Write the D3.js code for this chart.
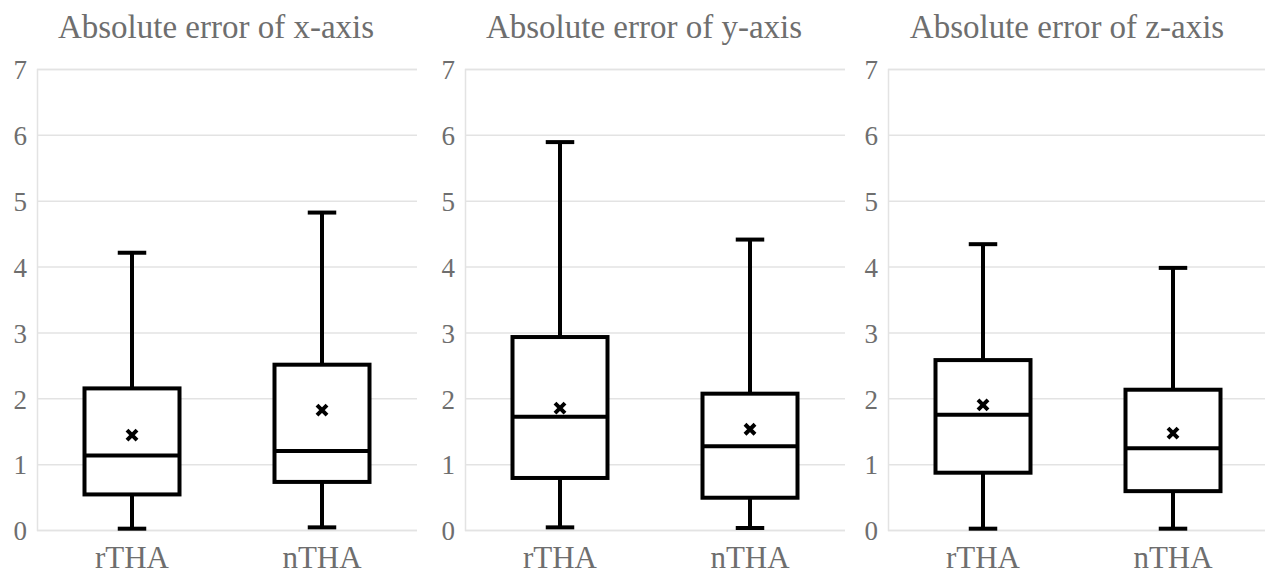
<!DOCTYPE html>
<html>
<head>
<meta charset="utf-8">
<script src="https://cdn.jsdelivr.net/npm/d3@7/dist/d3.min.js"></script>
<style>
  html, body { margin: 0; padding: 0; background: #fff; }
  svg { display: block; }
  text { font-family: "Liberation Serif", "Times New Roman", serif; }
</style>
</head>
<body>
<script>
// chart data
var panelTitles = ["Absolute error of x-axis", "Absolute error of y-axis", "Absolute error of z-axis"];
var categories = ["rTHA", "nTHA"];
var yTicks = [0, 1, 2, 3, 4, 5, 6, 7];

// one row per panel, one value per category
var whiskerLow  = [[0.02, 0.04], [0.04, 0.03], [0.02, 0.02]];
var q1          = [[0.54, 0.73], [0.79, 0.49], [0.87, 0.59]];
var median      = [[1.13, 1.20], [1.72, 1.27], [1.75, 1.24]];
var q3          = [[2.15, 2.51], [2.93, 2.07], [2.58, 2.13]];
var whiskerHigh = [[4.21, 4.82], [5.89, 4.41], [4.34, 3.98]];
var means       = [[1.44, 1.82], [1.85, 1.53], [1.90, 1.47]];

var width = 1265, height = 577;
var plotLefts = [37, 465, 888];
var plotWidth = 380;
var plotTop = 69, plotBottom = 530;

var config = {};
config.stroke = 4;
config.cap_ratio = 0.3;
config.mean_arm = 5;
config.grey = "#6e6e6e";
config.grid = "#e3e3e3";

var svg = d3.select("body").append("svg")
    .attr("width", width)
    .attr("height", height);

var y = d3.scaleLinear().domain([0, 7]).range([plotBottom, plotTop]);

panelTitles.forEach(function(title, p) {
    var g = svg.append("g").attr("transform", "translate(" + plotLefts[p] + ",0)");

    var x = d3.scaleBand()
        .domain(categories)
        .range([0, plotWidth])
        .paddingInner(0.5)
        .paddingOuter(0.25);

    // gridlines + tick labels
    var axis = g.append("g")
        .call(d3.axisLeft(y).tickValues(yTicks).tickSize(-plotWidth).tickPadding(10).tickFormat(d3.format("d")));
    axis.attr("font-family", null);
    axis.select(".domain").attr("stroke", config.grid).attr("stroke-width", 1.5);
    axis.selectAll(".tick line").attr("stroke", config.grid).attr("stroke-width", 1.5);
    axis.selectAll(".tick text")
        .attr("fill", config.grey)
        .style("font-size", "27px")
        .attr("dy", "0.36em");

    // category labels
    g.selectAll(".cat").data(categories).enter().append("text")
        .attr("class", "cat")
        .attr("x", function(d) { return x(d) + x.bandwidth() / 2; })
        .attr("y", 568)
        .attr("text-anchor", "middle")
        .attr("fill", config.grey)
        .style("font-size", "31px")
        .text(function(d) { return d; });

    // title
    g.append("text")
        .attr("x", plotWidth / 2 - 11)
        .attr("y", 38)
        .attr("text-anchor", "middle")
        .attr("fill", config.grey)
        .style("font-size", "33px")
        .text(title);

    var rows = categories.map(function(c, i) {
        return {
            cat: c,
            lo: whiskerLow[p][i], q1: q1[p][i], med: median[p][i],
            q3: q3[p][i], hi: whiskerHigh[p][i], mean: means[p][i]
        };
    });

    var boxes = g.selectAll(".box").data(rows).enter().append("g").attr("class", "box");
    var cx = function(d) { return x(d.cat) + x.bandwidth() / 2; };
    var capHalf = x.bandwidth() * config.cap_ratio / 2;

    // whiskers
    boxes.append("line")
        .attr("x1", cx).attr("x2", cx)
        .attr("y1", function(d) { return y(d.hi); })
        .attr("y2", function(d) { return y(d.q3); });
    boxes.append("line")
        .attr("x1", cx).attr("x2", cx)
        .attr("y1", function(d) { return y(d.q1); })
        .attr("y2", function(d) { return y(d.lo); });
    // caps
    boxes.append("line")
        .attr("x1", function(d) { return cx(d) - capHalf; })
        .attr("x2", function(d) { return cx(d) + capHalf; })
        .attr("y1", function(d) { return y(d.hi); })
        .attr("y2", function(d) { return y(d.hi); });
    boxes.append("line")
        .attr("x1", function(d) { return cx(d) - capHalf; })
        .attr("x2", function(d) { return cx(d) + capHalf; })
        .attr("y1", function(d) { return y(d.lo); })
        .attr("y2", function(d) { return y(d.lo); });
    // box
    boxes.append("rect")
        .attr("x", function(d) { return x(d.cat); })
        .attr("width", x.bandwidth())
        .attr("y", function(d) { return y(d.q3); })
        .attr("height", function(d) { return y(d.q1) - y(d.q3); })
        .attr("fill", "#fff");
    // median
    boxes.append("line")
        .attr("x1", function(d) { return x(d.cat); })
        .attr("x2", function(d) { return x(d.cat) + x.bandwidth(); })
        .attr("y1", function(d) { return y(d.med); })
        .attr("y2", function(d) { return y(d.med); });
    // mean marker
    var a = config.mean_arm;
    boxes.append("path")
        .attr("d", function(d) {
            var mx = cx(d), my = y(d.mean);
            return "M" + (mx - a) + "," + (my - a) + "L" + (mx + a) + "," + (my + a) +
                   "M" + (mx - a) + "," + (my + a) + "L" + (mx + a) + "," + (my - a);
        });

    boxes.selectAll("line, rect, path")
        .attr("stroke", "#000")
        .attr("stroke-width", config.stroke);
});
</script>
</body>
</html>
